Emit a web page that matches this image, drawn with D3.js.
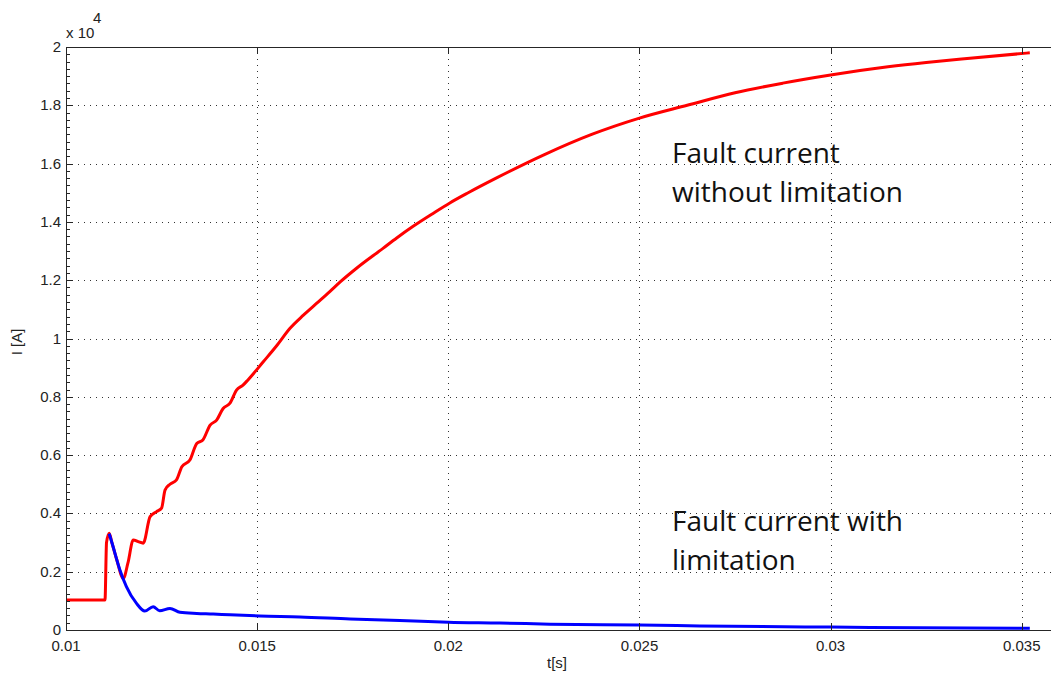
<!DOCTYPE html>
<html>
<head>
<meta charset="utf-8">
<script src="https://cdn.jsdelivr.net/npm/d3@7"></script>
<style>
  body{margin:0;background:#fff;}
  svg{display:block;}
  .tick-lbl{font-family:"Liberation Sans",Arial,sans-serif;font-size:15px;fill:#222;}
  .note{font-family:"Open Sans",sans-serif;font-size:28px;fill:#111;}
</style>
</head>
<body>
<svg id="chart" width="1051" height="675"></svg>
<script>
// time [s] and current [x10^4 A]
var redT = [0.01,0.01102,0.01106,0.01113,0.0112,0.01133,0.0115,0.01162,0.01176,0.01189,0.01202,0.0122,0.01237,0.0125,0.01259,0.01272,0.01289,0.01303,0.01324,0.01342,0.01358,0.01377,0.01394,0.01411,0.01429,0.01446,0.01463,0.01476,0.01516,0.01551,0.01586,0.01621,0.01656,0.0169,0.01718,0.0176,0.0183,0.01865,0.01908,0.01961,0.02004,0.02052,0.02125,0.0225,0.02375,0.025,0.02625,0.0275,0.02875,0.03,0.0315,0.0325,0.0335,0.03521];
var redI = [0.103,0.103,0.30,0.332,0.30,0.24,0.177,0.23,0.309,0.303,0.298,0.389,0.406,0.418,0.48,0.50,0.515,0.56,0.583,0.64,0.652,0.703,0.72,0.76,0.778,0.823,0.84,0.858,0.92,0.975,1.035,1.08,1.121,1.161,1.195,1.241,1.31,1.345,1.385,1.43,1.465,1.50,1.55,1.63,1.70,1.756,1.80,1.843,1.876,1.904,1.932,1.947,1.96,1.98];
var blueT = [0.01113,0.0112,0.01141,0.01158,0.01184,0.01206,0.01228,0.01245,0.01272,0.01298,0.01342,0.01385,0.01429,0.01507,0.01612,0.01743,0.01873,0.02,0.02135,0.02266,0.025,0.02658,0.03,0.035,0.03521];
var blueI = [0.33,0.30,0.206,0.149,0.092,0.065,0.08,0.066,0.074,0.061,0.057,0.055,0.052,0.048,0.045,0.038,0.033,0.027,0.024,0.02,0.017,0.014,0.01,0.006,0.006];
var xTicks = [0.01,0.015,0.02,0.025,0.03,0.035];
var yTicks = [0,0.2,0.4,0.6,0.8,1,1.2,1.4,1.6,1.8,2];
var notes = [["Fault current","without limitation"],["Fault current with","limitation"]];

(function(){
var svg = d3.select('#chart');
var pl = 66, pr = 1060, pt = 47, pb = 630;

var x = d3.scaleLinear().domain([0.01,0.036]).range([pl,pr]);
var y = d3.scaleLinear().domain([0,2]).range([pb,pt]);
var px = function(d){return Math.round(x(d))+0.5};
var py = function(d){return Math.round(y(d))+0.5};

// grid
var grid = svg.append('g').attr('stroke','#333').attr('stroke-width',1).attr('stroke-dasharray','1,5');
grid.selectAll('.gx').data(xTicks.slice(1)).enter().append('line')
  .attr('x1',px).attr('x2',px).attr('y1',pt).attr('y2',pb);
grid.selectAll('.gy').data(yTicks.slice(1,-1)).enter().append('line')
  .attr('y1',py).attr('y2',py).attr('x1',pl).attr('x2',pr);

// curves
svg.append('clipPath').attr('id','clip').append('rect')
  .attr('x',pl).attr('y',pt).attr('width',pr-pl).attr('height',pb-pt);
var line = d3.line().x(function(d){return x(d[0])}).y(function(d){return y(d[1])}).curve(d3.curveMonotoneX);
var plot = svg.append('g').attr('clip-path','url(#clip)');
plot.append('path').datum(d3.zip(redT,redI)).attr('d',line)
  .attr('fill','none').attr('stroke','#ff0000').attr('stroke-width',3);
plot.append('path').datum(d3.zip(blueT,blueI)).attr('d',line)
  .attr('fill','none').attr('stroke','#0000ff').attr('stroke-width',3);

// axes box
var ax = svg.append('g').attr('stroke','#262626').attr('stroke-width',1).attr('fill','none');
ax.append('line').attr('x1',pl).attr('x2',pr).attr('y1',pb+0.5).attr('y2',pb+0.5);
ax.append('line').attr('x1',pl).attr('x2',pr).attr('y1',pt+0.5).attr('y2',pt+0.5);
ax.append('line').attr('x1',pl+0.5).attr('x2',pl+0.5).attr('y1',pt).attr('y2',pb+1);

// major ticks (inside)
ax.selectAll('.tx').data(xTicks).enter().append('line')
  .attr('x1',px).attr('x2',px).attr('y1',pb).attr('y2',pb-7);
ax.selectAll('.tx2').data(xTicks).enter().append('line')
  .attr('x1',px).attr('x2',px).attr('y1',pt).attr('y2',pt+7);
ax.selectAll('.ty').data(yTicks).enter().append('line')
  .attr('y1',py).attr('y2',py).attr('x1',pl).attr('x2',pl+7);
// minor ticks
ax.selectAll('.tm').data(d3.range(0,2.001,0.025)).enter().append('line')
  .attr('y1',py).attr('y2',py).attr('x1',pl).attr('x2',pl+4);

// tick labels
svg.selectAll('.xl').data(xTicks).enter().append('text').attr('class','tick-lbl')
  .attr('x',function(d){return x(d)}).attr('y',651).attr('text-anchor','middle')
  .text(function(d){return d3.format('')(d)});
svg.selectAll('.yl').data(yTicks).enter().append('text').attr('class','tick-lbl')
  .attr('x',61).attr('y',function(d){return y(d)+5}).attr('text-anchor','end')
  .text(function(d){return d});

// exponent
svg.append('text').attr('class','tick-lbl').attr('x',66).attr('y',38).text('x 10');
svg.append('text').attr('class','tick-lbl').attr('x',93).attr('y',23).text('4');

// axis titles
svg.append('text').attr('class','tick-lbl').attr('x',557).attr('y',668).attr('text-anchor','middle').text('t[s]');
svg.append('text').attr('class','tick-lbl').attr('text-anchor','middle')
  .attr('transform','translate(22,342) rotate(-90)').text('I [A]');

// annotations
var noteY = [163,531];
notes.forEach(function(lines,i){
  lines.forEach(function(s,j){
    svg.append('text').attr('class','note').attr('x',672).attr('y',noteY[i]+j*38.5).text(s);
  });
});
})();
</script>
</body>
</html>
